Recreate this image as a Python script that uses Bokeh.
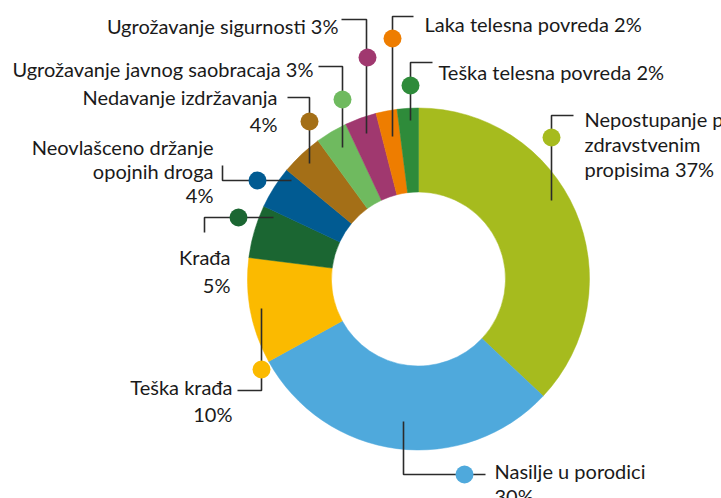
import math
from bokeh.plotting import figure
from bokeh.models import Range1d, ColumnDataSource
from bokeh.core.properties import value
from bokeh.embed import file_html
from bokeh.resources import INLINE

# ---- data ----
categories = [
    "Nepostupanje po zdravstvenim propisima",
    "Nasilje u porodici",
    "Teška krađa",
    "Krađa",
    "Neovlašceno držanje opojnih droga",
    "Nedavanje izdržavanja",
    "Ugrožavanje javnog saobracaja",
    "Ugrožavanje sigurnosti",
    "Laka telesna povreda",
    "Teška telesna povreda",
]
values = [37, 30, 10, 5, 4, 4, 3, 3, 2, 2]
colors = ["#A6BB1E", "#4FA9DC", "#FBBA00", "#1B6632", "#015B92",
          "#A46F17", "#6FBA5F", "#A0386F", "#EE7D00", "#2E8B3A"]

# label text lines ({p} is replaced with the percentage)
label_lines = [
    ["Nepostupanje po", "zdravstvenim", "propisima {p}"],
    ["Nasilje u porodici", "{p}"],
    ["Teška krađa", "{p}"],
    ["Krađa", "{p}"],
    ["Neovlašceno držanje", "opojnih droga", "{p}"],
    ["Nedavanje izdržavanja", "{p}"],
    ["Ugrožavanje javnog saobracaja {p}"],
    ["Ugrožavanje sigurnosti {p}"],
    ["Laka telesna povreda {p}"],
    ["Teška telesna povreda {p}"],
]

# ---- layout (pixel coordinates, y measured from top) ----
W, H = 721, 498
CX, CY = 418, 278.5
R_IN, R_OUT = 87, 171

# (anchor x, align, first baseline, line step)
text_layout = [
    (584, "left", 118, 25),
    (494, "left", 470, 25),
    (232, "right", 386, 27),
    (230, "right", 256, 28),
    (213, "right", 146, 24),
    (277, "right", 96, 27),
    (313, "right", 68, 0),
    (338, "right", 25, 0),
    (424, "left", 23, 0),
    (438, "left", 71, 0),
]
# leader polylines and dot positions
leaders = [
    ([573, 551, 551], [115, 115, 200]),
    ([485, 403, 403], [474, 474, 421]),
    ([237, 261, 261], [390, 390, 308]),
    ([204, 204, 273], [232, 217, 217]),
    ([222, 222, 291], [165, 180, 180]),
    ([287, 309, 309], [97, 97, 163]),
    ([318, 342, 342], [66, 66, 147]),
    ([341, 366, 366], [19, 19, 133]),
    ([413, 392, 392], [16, 16, 136]),
    ([432, 410, 410], [62, 62, 120]),
]
dots = [(551, 137), (464, 474), (261, 369), (238, 217), (257, 180),
        (309, 121), (342, 99), (367, 57), (392, 38), (410, 85)]


def Y(py):
    return H - py


p = figure(width=W, height=H, output_backend="svg", toolbar_location=None,
           x_range=Range1d(0, W), y_range=Range1d(0, H),
           x_axis_type=None, y_axis_type=None, min_border=0)
p.outline_line_color = None
p.grid.visible = False
p.background_fill_color = "white"
p.border_fill_color = "white"

total = float(sum(values))
starts, ends = [], []
cum = 0.0
for v in values:
    starts.append(math.pi / 2 - 2 * math.pi * cum / total)
    cum += v
    ends.append(math.pi / 2 - 2 * math.pi * cum / total)

src = ColumnDataSource(dict(x=[CX] * len(values), y=[Y(CY)] * len(values),
                            start=starts, end=ends, color=colors,
                            cat=categories, val=values))
p.annular_wedge(x="x", y="y", inner_radius=R_IN, outer_radius=R_OUT,
                start_angle="start", end_angle="end", direction="clock",
                fill_color="color", line_color="color", line_width=0.5,
                source=src)

for xs, ys in leaders:
    p.line(xs, [Y(v) for v in ys], line_color="#2b2b2b", line_width=1.6)

p.scatter([d[0] for d in dots], [Y(d[1]) for d in dots], size=18,
          marker="circle", fill_color=colors, line_color=None)

FONT = "Lato"
for i, lines in enumerate(label_lines):
    x0, align, b0, step = text_layout[i]
    pct = f"{values[i]}%"
    for j, ln in enumerate(lines):
        t = ln.replace("{p}", pct)
        p.text([x0], [Y(b0 + j * step)], text=[t], text_align=align,
               text_baseline="alphabetic", text_font=value(FONT),
               text_font_size="20px", text_color="#1a1a1a")

open("out.html", "w").write(file_html(p, INLINE))
